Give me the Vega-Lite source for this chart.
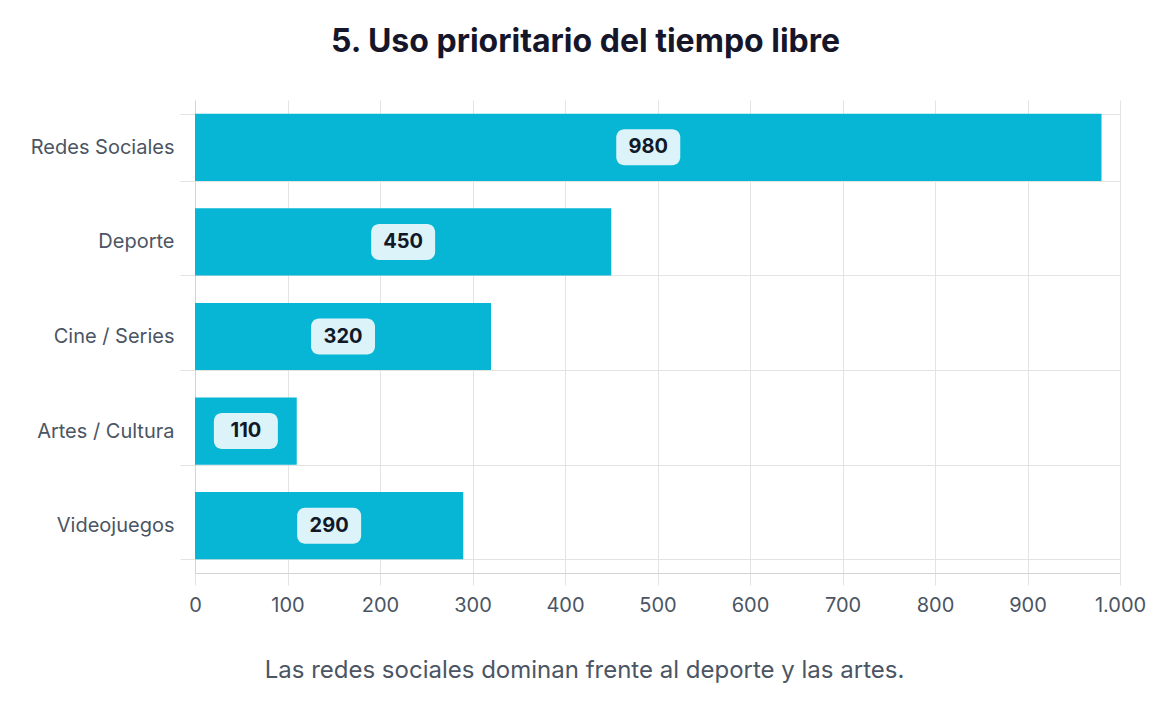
{
  "$schema": "https://vega.github.io/schema/vega-lite/v6.json",
  "width": 925,
  "height": 473,
  "autosize": {"type": "none"},
  "padding": {"left": 195, "top": 100, "right": 53, "bottom": 149},
  "background": "white",
  "title": {
    "text": "5. Uso prioritario del tiempo libre",
    "anchor": "middle",
    "frame": "group",
    "dx": -72,
    "offset": 31,
    "font": "Inter",
    "fontSize": 32,
    "fontWeight": "bold",
    "color": "#16162a"
  },
  "config": {
    "view": {"stroke": null},
    "font": "Inter"
  },
  "data": {
    "values": [
      {"categoria": "Redes Sociales", "valor": 980},
      {"categoria": "Deporte", "valor": 450},
      {"categoria": "Cine / Series", "valor": 320},
      {"categoria": "Artes / Cultura", "valor": 110},
      {"categoria": "Videojuegos", "valor": 290}
    ]
  },
  "transform": [{"calculate": "datum.valor / 2", "as": "mitad"}],
  "encoding": {
    "y": {
      "field": "categoria",
      "type": "nominal",
      "sort": null,
      "scale": {"paddingInner": 0.29, "paddingOuter": 0.145},
      "axis": {
        "title": null,
        "tickBand": "extent",
        "grid": true,
        "gridColor": "#e3e3e3",
        "domainColor": "#d4d4d4",
        "tickColor": "#e3e3e3",
        "tickSize": 15,
        "labelPadding": 6,
        "labelFontSize": 20,
        "labelColor": "#4b5563",
        "labelFont": "Inter"
      }
    }
  },
  "layer": [
    {
      "mark": {"type": "bar", "color": "#06b6d4"},
      "encoding": {
        "x": {
          "field": "valor",
          "type": "quantitative",
          "scale": {"domain": [0, 1000], "nice": false},
          "axis": {
            "values": [0, 100, 200, 300, 400, 500, 600, 700, 800, 900, 1000],
            "labelExpr": "replace(format(datum.value, ','), ',', '.')",
            "labelFlush": false,
            "labelOverlap": false,
            "title": "Las redes sociales dominan frente al deporte y las artes.",
            "titleFontSize": 24,
            "titleFontWeight": "normal",
            "titleColor": "#4b5563",
            "titleX": 389,
            "titleY": 97,
            "titleAlign": "center",
            "titleBaseline": "middle",
            "grid": true,
            "gridColor": "#e3e3e3",
            "domainColor": "#d4d4d4",
            "tickColor": "#e3e3e3",
            "tickSize": 12,
            "labelPadding": 10,
            "labelFontSize": 20,
            "labelColor": "#4b5563",
            "labelFont": "Inter"
          }
        }
      }
    },
    {
      "mark": {
        "type": "point",
        "filled": true,
        "opacity": 1,
        "size": 4096,
        "color": "#dbf3f9",
        "shape": "M-0.75,-0.5625 L0.75,-0.5625 A0.25,0.25 0 0 1 1,-0.3125 L1,0.3125 A0.25,0.25 0 0 1 0.75,0.5625 L-0.75,0.5625 A0.25,0.25 0 0 1 -1,0.3125 L-1,-0.3125 A0.25,0.25 0 0 1 -0.75,-0.5625 Z"
      },
      "encoding": {
        "x": {"field": "mitad", "type": "quantitative"}
      }
    },
    {
      "mark": {
        "type": "text",
        "fontSize": 20,
        "fontWeight": "bold",
        "color": "#111827",
        "align": "center",
        "baseline": "middle",
        "font": "Inter"
      },
      "encoding": {
        "x": {"field": "mitad", "type": "quantitative"},
        "text": {"field": "valor", "type": "quantitative"}
      }
    }
  ]
}
